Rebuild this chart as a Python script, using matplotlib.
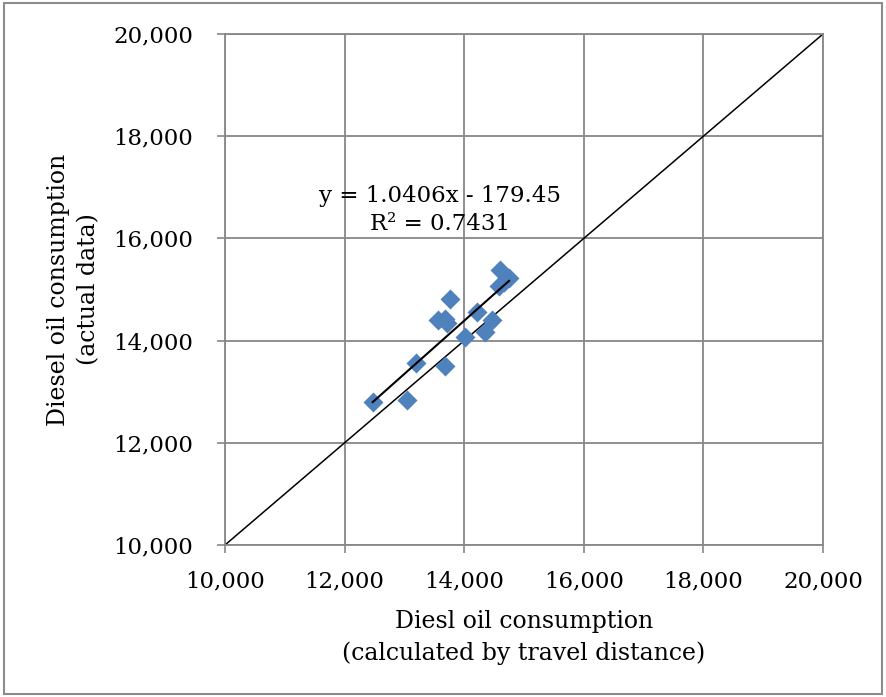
import matplotlib

matplotlib.use("Agg")

import matplotlib.pyplot as plt
import numpy as np
from matplotlib.patches import Rectangle
from matplotlib.ticker import FuncFormatter

calc_km = [12470, 13040, 13190, 13680, 13760, 13560, 13680, 13720, 14010,
           14210, 14350, 14460, 14600, 14750, 14580, 14660]
actual = [12800, 12830, 13570, 13500, 14810, 14400, 14430, 14350, 14080,
          14550, 14170, 14400, 15380, 15230, 15060, 15150]
slope, intercept = 1.0406, -179.45
r_squared = 0.7431
tick_values = [10000, 12000, 14000, 16000, 18000, 20000]

plt.rcParams["font.family"] = ["DejaVu Serif"]

fig = plt.figure(figsize=(8.86, 6.97), dpi=100)
fig.patches.append(Rectangle((0.005, 0.005), 0.99, 0.99, transform=fig.transFigure,
                             fill=False, edgecolor="#8c8c8c", linewidth=1.5))
ax = fig.add_axes([225 / 886, 1 - 545 / 697, 598 / 886, 511 / 697])

ax.set_xlim(10000, 20000)
ax.set_ylim(10000, 20000)
ax.set_xticks(tick_values)
ax.set_yticks(tick_values)
fmt = FuncFormatter(lambda v, _: f"{v:,.0f}")
ax.xaxis.set_major_formatter(fmt)
ax.yaxis.set_major_formatter(fmt)
ax.tick_params(labelsize=16.5, length=6, color="#878787", width=1.2)
ax.tick_params(axis="x", pad=12)
ax.tick_params(axis="y", pad=17)
ax.grid(True, color="#878787", linewidth=1.3)
ax.set_axisbelow(True)
for spine in ax.spines.values():
    spine.set_color("#878787")
    spine.set_linewidth(1.3)

ax.plot([10000, 20000], [10000, 20000], color="black", linewidth=1.1, zorder=2)
ax.scatter(calc_km, actual, marker="D", s=104, color="#4F81BD", zorder=3, linewidths=0)
fit_x = np.array([min(calc_km), max(calc_km)])
ax.plot(fit_x, slope * fit_x + intercept, color="black", linewidth=1.5, zorder=4)

ax.text(13600, 16560, f"y = {slope}x - {abs(intercept)}\nR² = {r_squared}",
        ha="center", va="center", fontsize=16.5, linespacing=1.35, zorder=5)

ax.set_xlabel("Diesl oil consumption\n(calculated by travel distance)", fontsize=17,
              labelpad=13, linespacing=1.45)
ax.set_ylabel("Diesel oil consumption\n(actual data)", fontsize=17, labelpad=9,
              linespacing=1.45)

fig.savefig("out.png", dpi=100)
